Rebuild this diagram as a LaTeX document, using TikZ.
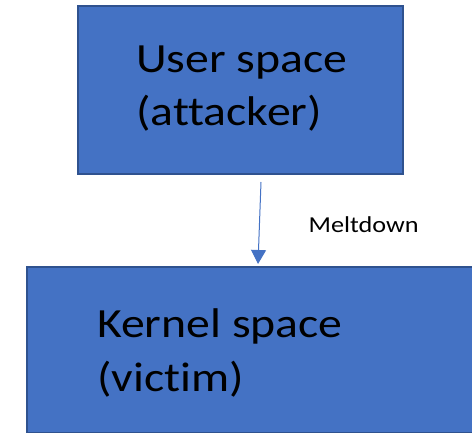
\documentclass[tikz,border=0pt]{standalone}
\usepackage{fontspec}
\setmainfont[Ligatures=CommonOff]{Carlito}
\usetikzlibrary{arrows.meta}
\definecolor{boxfill}{HTML}{4472C4}
\definecolor{boxline}{HTML}{2F528F}
\tikzset{
  boxnode/.style={draw=boxline, line width=1.6pt, fill=boxfill, rectangle, inner sep=0pt},
  bigtext/.style={anchor=base west, inner sep=0pt, text=black, font=\fontsize{41.5}{53}\selectfont},
  smalltext/.style={anchor=base west, inner sep=0pt, text=black, font=\fontsize{22.8}{27}\selectfont},
  arr/.style={draw=boxfill, line width=1pt, -{Triangle[length=14pt,width=15pt]}}
}
\begin{document}
\begin{tikzpicture}[x=1pt,y=-1pt]
  \useasboundingbox (0,0) rectangle (472,433);
  \node[boxnode, minimum width=325pt, minimum height=168pt, anchor=north west] (user) at (77,5) {};
  \node[boxnode, minimum width=480pt, minimum height=166pt, anchor=north west] (kernel) at (26,266) {};
  \node[bigtext] (userl1) at (136,72.3) {\scalebox{1.15}[1]{User space}};
  \node[bigtext] (userl2) at (136,125.7) {\scalebox{1.15}[1]{(attacker)}};
  \node[bigtext] (kernl1) at (97,337.7) {\scalebox{1.15}[1]{Kernel space}};
  \node[bigtext] (kernl2) at (97,391.7) {\scalebox{1.15}[1]{(victim)}};
  \node[smalltext] (melt) at (308.5,232.3) {\scalebox{1.15}[1]{Meltdown}};
  \coordinate (astart) at (261,182);
  \coordinate (aend) at (258,264);
  \draw[arr] (astart) -- (aend);
\end{tikzpicture}
\end{document}
